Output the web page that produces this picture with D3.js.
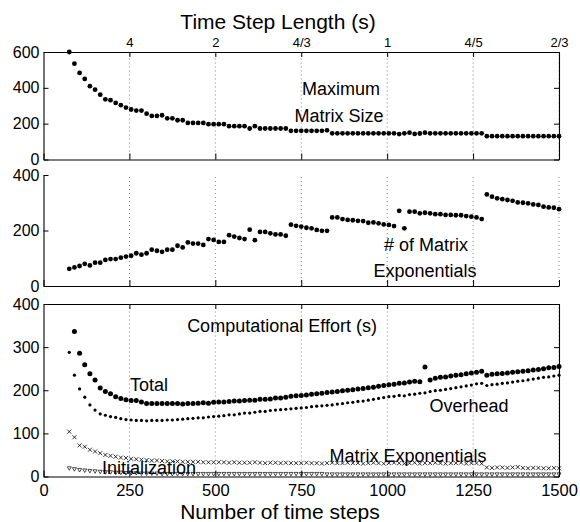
<!DOCTYPE html>
<html>
<head>
<meta charset="utf-8">
<script src="https://cdn.jsdelivr.net/npm/d3@7"></script>
<style>
    body { margin: 0; background: #fff; }
    text { font-family: "Liberation Sans", Arial, sans-serif; fill: #000; }
</style>
</head>
<body>
<script>

// number of time steps (x values shared by all three panels)
var steps = [
    75, 90, 105, 120, 135, 150, 165, 180, 195, 210,
    225, 240, 255, 270, 285, 300, 315, 330, 345, 360,
    375, 390, 405, 420, 435, 450, 465, 480, 495, 510,
    525, 540, 555, 570, 585, 600, 615, 630, 645, 660,
    675, 690, 705, 720, 735, 750, 765, 780, 795, 810,
    825, 840, 855, 870, 885, 900, 915, 930, 945, 960,
    975, 990, 1005, 1020, 1035, 1050, 1065, 1080, 1095, 1110,
    1125, 1140, 1155, 1170, 1185, 1200, 1215, 1230, 1245, 1260,
    1275, 1290, 1305, 1320, 1335, 1350, 1365, 1380, 1395, 1410,
    1425, 1440, 1455, 1470, 1485, 1500
];

// top axis: time step length
var stepLengthTicks = [250, 500, 750, 1000, 1250, 1500];
var stepLengthLabels = ["4", "2", "4/3", "1", "4/5", "2/3"];
var stepTicks = [0, 250, 500, 750, 1000, 1250, 1500];

// panel 1: maximum matrix size
var maxMatrixSize = [
    600, 535, 483, 450, 409, 390, 362, 336, 331, 316,
    303, 290, 279, 273, 273, 256, 243, 243, 247, 230,
    230, 219, 219, 204, 204, 204, 204, 197, 197, 197,
    197, 186, 186, 186, 186, 173, 186, 173, 173, 173,
    173, 173, 173, 160, 160, 160, 160, 160, 160, 160,
    163, 146, 146, 146, 146, 146, 146, 146, 146, 146,
    146, 146, 146, 146, 142, 146, 150, 143, 145, 150,
    146, 146, 146, 146, 146, 146, 146, 146, 146, 146,
    146, 130, 130, 130, 130, 130, 130, 130, 130, 130,
    130, 130, 130, 130, 130, 130
];

// panel 2: number of matrix exponentials
var numMatrixExp = [
    62, 67, 72, 80, 74, 84, 84, 94, 97, 97,
    102, 106, 109, 118, 113, 118, 131, 127, 123, 131,
    131, 145, 139, 157, 153, 153, 148, 169, 166, 159,
    159, 183, 178, 173, 169, 203, 165, 195, 195, 190,
    186, 186, 181, 221, 217, 214, 210, 208, 202, 199,
    199, 247, 247, 241, 238, 237, 235, 234, 228, 229,
    226, 222, 220, 216, 271, 208, 268, 268, 262, 264,
    262, 259, 259, 256, 256, 255, 255, 252, 250, 247,
    241, 330, 322, 316, 313, 310, 307, 301, 300, 298,
    294, 292, 286, 283, 282, 277
];

// panel 3: computational effort (s)
var totalEffort = [
    430, 336, 286, 259, 238, 224, 205, 197, 192, 185,
    181, 178, 176, 176, 173, 169, 169, 169, 169, 169,
    169, 169, 168, 169, 169, 170, 171, 170, 172, 173,
    173, 174, 175, 175, 176, 177, 177, 179, 179, 180,
    182, 182, 184, 186, 187, 188, 189, 191, 192, 193,
    195, 196, 197, 199, 200, 201, 203, 204, 206, 207,
    209, 211, 213, 214, 216, 217, 219, 221, 220, 254,
    224, 228, 230, 231, 233, 235, 236, 238, 240, 242,
    244, 235, 237, 238, 239, 240, 242, 243, 244, 245,
    247, 248, 250, 252, 253, 255
];

var overheadEffort = [
    288, 235, 203, 184, 166, 154, 145, 142, 139, 137,
    134, 132, 131, 130, 130, 129, 130, 130, 130, 131,
    131, 132, 133, 134, 135, 136, 136, 138, 139, 140,
    141, 143, 143, 145, 147, 147, 149, 151, 151, 153,
    154, 155, 156, 157, 158, 159, 160, 162, 163, 164,
    165, 166, 168, 169, 171, 172, 174, 175, 177, 179,
    181, 183, 185, 186, 188, 187, 190, 191, 193, 194,
    197, 199, 200, 202, 204, 206, 208, 210, 212, 215,
    216, 211, 213, 214, 216, 217, 219, 221, 222, 224,
    226, 228, 230, 231, 233, 235
];

var expEffort = [
    104, 91, 72, 69, 62, 58, 54, 50, 48, 46,
    44, 43, 41, 40, 39, 38, 37, 37, 36, 35,
    35, 35, 34, 34, 34, 34, 33, 33, 33, 33,
    33, 32, 33, 32, 32, 32, 33, 32, 31, 32,
    32, 31, 32, 31, 31, 31, 32, 31, 31, 30,
    31, 32, 31, 31, 32, 31, 31, 30, 31, 32,
    31, 30, 31, 32, 31, 30, 31, 32, 30, 31,
    31, 32, 31, 30, 31, 31, 32, 30, 31, 31,
    30, 21, 20, 21, 21, 20, 21, 22, 20, 19,
    20, 20, 19, 19, 20, 19
];

var initEffort = [
    19, 17, 15, 14, 13, 12, 11, 10, 10, 9,
    9, 8, 8, 8, 7, 7, 7, 7, 6, 6,
    6, 6, 6, 6, 6, 6, 6, 6, 6, 6,
    6, 6, 6, 6, 6, 6, 6, 6, 6, 6,
    6, 6, 6, 6, 6, 6, 6, 6, 6, 6,
    5, 5, 5, 5, 5, 5, 5, 5, 5, 5,
    5, 5, 5, 5, 5, 5, 5, 5, 5, 5,
    5, 5, 5, 5, 5, 5, 5, 5, 5, 5,
    5, 5, 5, 5, 5, 5, 5, 5, 5, 5,
    5, 5, 5, 5, 5, 5
];

var width = 580, height = 522;
var font = '"Liberation Sans", Arial, sans-serif';

var svg = d3.select("body").append("svg")
    .attr("width", width)
    .attr("height", height);

var xScale = d3.scaleLinear()
    .domain([0, 1500])
    .range([43.5, 559]);

// the three stacked panels
var panels = [
    { key: "size", domain: [0, 600], range: [159.5, 52], yTicks: [0, 200, 400, 600], box: true },
    { key: "count", domain: [0, 400], range: [286, 175], yTicks: [0, 200, 400], box: false },
    { key: "effort", domain: [0, 400], range: [476.5, 304], yTicks: [0, 100, 200, 300, 400], box: true }
];

function styleAxis(g, size) {
    g.attr("font-family", font).attr("font-size", size);
    g.selectAll("path.domain").attr("stroke", "#000").attr("stroke-width", 1.1);
    g.selectAll(".tick line").attr("stroke", "#000").attr("stroke-width", 1);
}

panels.forEach(function (p) {
    p.y = d3.scaleLinear().domain(p.domain).range(p.range);
    var g = svg.append("g").attr("class", "panel " + p.key);
    p.g = g;

    // dotted vertical grid
    g.selectAll(".grid")
        .data(stepLengthTicks)
        .enter().append("line")
        .attr("class", "grid")
        .attr("x1", function (d) { return xScale(d) })
        .attr("x2", function (d) { return xScale(d) })
        .attr("y1", p.range[0])
        .attr("y2", p.range[1])
        .attr("stroke", "#666")
        .attr("stroke-width", 0.8)
        .attr("stroke-dasharray", "1,3");

    var yAxis = d3.axisLeft(p.y)
        .tickValues(p.yTicks)
        .tickSize(-5)
        .tickSizeOuter(0)
        .tickPadding(4);
    g.append("g")
        .attr("transform", "translate(" + xScale(0) + ",0)")
        .call(yAxis)
        .call(styleAxis, 16);

    var xAxis = d3.axisBottom(xScale)
        .tickValues(stepTicks)
        .tickSize(-6)
        .tickSizeOuter(0)
        .tickPadding(8)
        .tickFormat(d3.format("d"));
    if (p.key !== "effort") xAxis.tickFormat("");
    g.append("g")
        .attr("transform", "translate(0," + p.range[0] + ")")
        .call(xAxis)
        .call(styleAxis, 16.5);

    if (p.box) {
        // right side ticks
        g.append("g")
            .attr("transform", "translate(" + xScale(1500) + ",0)")
            .call(d3.axisRight(p.y).tickValues(p.yTicks).tickSize(-5).tickSizeOuter(0).tickFormat(""))
            .call(styleAxis, 13);

        // top side, labelled with time step length on the first panel
        var topAxis = d3.axisTop(xScale)
            .tickValues(stepLengthTicks)
            .tickSize(-5)
            .tickSizeOuter(0)
            .tickPadding(5)
            .tickFormat(function (d, i) { return p.key === "size" ? stepLengthLabels[i] : "" });
        g.append("g")
            .attr("transform", "translate(0," + p.range[1] + ")")
            .call(topAxis)
            .call(styleAxis, 13);
    }
});

// clip for the effort panel (first total point is off scale)
svg.append("clipPath").attr("id", "effortClip")
    .append("rect")
    .attr("x", 38).attr("y", 301)
    .attr("width", 528).attr("height", 182);

function rows(values) {
    return steps.map(function (n, i) { return { n: n, v: values[i] } });
}

function dots(p, values, r, clip) {
    var layer = p.g.append("g");
    if (clip) layer.attr("clip-path", "url(#effortClip)");
    layer.selectAll("circle")
        .data(rows(values))
        .enter().append("circle")
        .attr("cx", function (d) { return xScale(d.n) })
        .attr("cy", function (d) { return p.y(d.v) })
        .attr("r", r)
        .attr("fill", "#000");
}

function glyphs(p, values, shape, strokeWidth) {
    p.g.append("g")
        .attr("clip-path", "url(#effortClip)")
        .selectAll("path")
        .data(rows(values))
        .enter().append("path")
        .attr("transform", function (d) { return "translate(" + xScale(d.n) + "," + p.y(d.v) + ")" })
        .attr("d", shape)
        .attr("fill", "none")
        .attr("stroke", "#000")
        .attr("stroke-width", strokeWidth);
}

var sizePanel = panels[0], countPanel = panels[1], effortPanel = panels[2];

dots(sizePanel, maxMatrixSize, 2.4, false);
dots(countPanel, numMatrixExp, 2.4, false);
dots(effortPanel, totalEffort, 2.5, true);
dots(effortPanel, overheadEffort, 1.6, true);
glyphs(effortPanel, expEffort, "M-2,-2L2,2M-2,2L2,-2", 0.8);
glyphs(effortPanel, initEffort, "M-2,-1.5L2,-1.5L0,2Z", 0.7);

// titles
svg.append("text")
    .attr("x", 278).attr("y", 28.5)
    .attr("text-anchor", "middle")
    .attr("font-size", 21)
    .text("Time Step Length (s)");

svg.append("text")
    .attr("x", 280).attr("y", 519)
    .attr("text-anchor", "middle")
    .attr("font-size", 21)
    .text("Number of time steps");

// in-panel labels
var notes = [
    ["Maximum", 341, 95],
    ["Matrix Size", 339, 121.5],
    ["# of Matrix", 426, 250.5],
    ["Exponentials", 425, 277],
    ["Computational Effort (s)", 282, 331.5],
    ["Total", 149, 391],
    ["Overhead", 469, 411.5],
    ["Matrix Exponentials", 408, 461.5],
    ["Initialization", 149, 474]
];

svg.selectAll(".note")
    .data(notes)
    .enter().append("text")
    .attr("class", "note")
    .attr("x", function (d) { return d[1] })
    .attr("y", function (d) { return d[2] })
    .attr("text-anchor", "middle")
    .attr("font-size", 18)
    .text(function (d) { return d[0] });

</script>
</body>
</html>
